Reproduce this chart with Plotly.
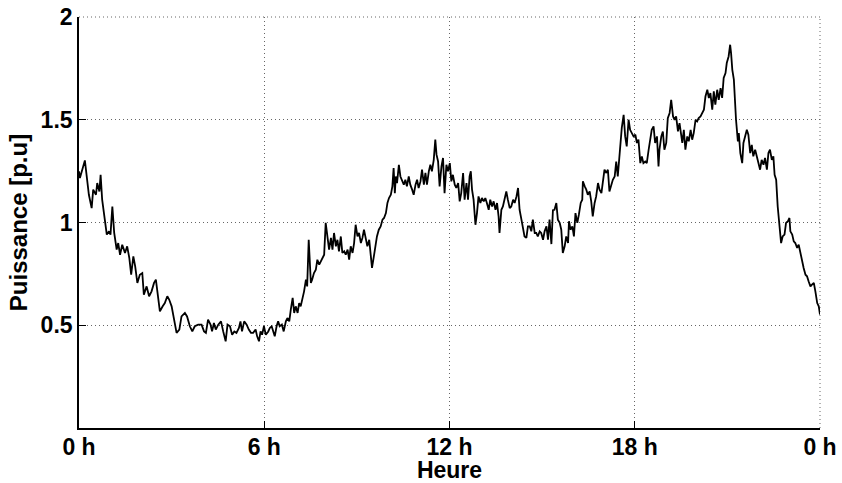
import plotly.graph_objects as go

# Time of day (hours) and power (p.u.)
hours = [
    0.00, 0.03, 0.19, 0.23, 0.27, 0.32, 0.41, 0.46, 0.55, 0.59, 0.66, 0.70, 0.75, 0.82, 0.90, 0.97,
    1.02, 1.08, 1.14, 1.22, 1.27, 1.33, 1.40, 1.49, 1.56, 1.63, 1.69, 1.76, 1.82, 1.89, 1.97,
    2.05, 2.10, 2.19, 2.27, 2.35, 2.43, 2.49, 2.57, 2.62, 2.71, 2.78, 2.86, 2.92,
    3.00, 3.07, 3.16, 3.25, 3.32, 3.43, 3.50, 3.59, 3.67, 3.75, 3.86, 3.97,
    4.05, 4.11, 4.18, 4.26, 4.31, 4.37, 4.43, 4.51, 4.60, 4.67, 4.75, 4.81, 4.89, 4.96,
    5.03, 5.10, 5.18, 5.23, 5.28, 5.35, 5.43, 5.50, 5.57, 5.64, 5.72, 5.77, 5.83, 5.88, 5.93, 5.99,
    6.05, 6.13, 6.18, 6.24, 6.29, 6.34, 6.40, 6.45, 6.50, 6.57, 6.63, 6.70, 6.75, 6.81, 6.86, 6.92, 6.97,
    7.02, 7.08, 7.13, 7.18, 7.24, 7.29, 7.35, 7.39, 7.44, 7.48, 7.51, 7.55, 7.61, 7.67, 7.72, 7.78, 7.89, 7.94, 7.99,
    8.05, 8.10, 8.16, 8.21, 8.26, 8.32, 8.37, 8.42, 8.48, 8.53, 8.59, 8.64, 8.70, 8.75, 8.80, 8.86, 8.91, 8.96,
    9.02, 9.07, 9.13, 9.18, 9.23, 9.29, 9.34, 9.40, 9.45, 9.49, 9.55, 9.60, 9.65, 9.71, 9.77, 9.83, 9.88, 9.94, 9.99,
    10.04, 10.10, 10.15, 10.19, 10.23, 10.26, 10.30, 10.36, 10.41, 10.46, 10.52, 10.57, 10.62, 10.68, 10.73, 10.79, 10.84, 10.90, 10.95,
    11.00, 11.06, 11.11, 11.17, 11.22, 11.27, 11.33, 11.38, 11.43, 11.49, 11.54, 11.58, 11.63, 11.68, 11.74, 11.79, 11.84, 11.90, 11.95,
    12.01, 12.06, 12.11, 12.17, 12.22, 12.28, 12.33, 12.38, 12.44, 12.49, 12.55, 12.60, 12.65, 12.69, 12.73, 12.78, 12.84, 12.89, 12.94,
    13.00, 13.05, 13.11, 13.16, 13.21, 13.27, 13.32, 13.38, 13.43, 13.49, 13.54, 13.59, 13.62, 13.68, 13.73, 13.79, 13.84, 13.89, 13.95,
    14.00, 14.06, 14.11, 14.17, 14.22, 14.27, 14.33, 14.38, 14.43, 14.49, 14.54, 14.60, 14.65, 14.70, 14.76, 14.81, 14.86, 14.92, 14.97,
    15.03, 15.08, 15.14, 15.19, 15.24, 15.30, 15.35, 15.40, 15.46, 15.51, 15.57, 15.62, 15.67, 15.73, 15.78, 15.84, 15.87, 15.92, 15.98,
    16.03, 16.08, 16.14, 16.19, 16.25, 16.30, 16.32, 16.38, 16.43, 16.48, 16.54, 16.59, 16.64, 16.70, 16.75, 16.81, 16.86, 16.92, 16.97,
    17.02, 17.08, 17.13, 17.18, 17.24, 17.29, 17.35, 17.40, 17.45, 17.51, 17.54, 17.58, 17.64, 17.69, 17.74, 17.80, 17.85, 17.91, 17.96,
    18.02, 18.07, 18.12, 18.18, 18.23, 18.28, 18.34, 18.39, 18.45, 18.50, 18.55, 18.61, 18.66, 18.72, 18.77, 18.80, 18.86, 18.91, 18.96,
    19.02, 19.07, 19.13, 19.18, 19.24, 19.29, 19.34, 19.40, 19.45, 19.54, 19.59, 19.64, 19.70, 19.75, 19.81, 19.86, 19.91, 19.97,
    20.02, 20.07, 20.13, 20.18, 20.24, 20.29, 20.35, 20.40, 20.45, 20.51, 20.56, 20.61, 20.67, 20.72, 20.78, 20.83, 20.88, 20.94, 20.98,
    21.04, 21.09, 21.12, 21.16, 21.21, 21.25, 21.28, 21.34, 21.37, 21.42, 21.48, 21.52, 21.58, 21.63, 21.68, 21.74, 21.79, 21.84, 21.90, 21.95,
    22.01, 22.06, 22.11, 22.17, 22.22, 22.28, 22.33, 22.38, 22.44, 22.49, 22.53, 22.58, 22.63, 22.69, 22.74, 22.79, 22.85, 22.90, 22.96,
    23.01, 23.04, 23.10, 23.15, 23.20, 23.26, 23.31, 23.37, 23.42, 23.47, 23.53, 23.58, 23.63, 23.69, 23.74, 23.80, 23.85, 23.91, 23.96, 24.00,
]

power = [
    1.249, 1.216, 1.302, 1.241, 1.184, 1.135, 1.070, 1.160, 1.135, 1.192, 1.151, 1.232, 1.111, 1.038, 0.941, 0.957,
    0.941, 1.078, 0.949, 0.868, 0.900, 0.843, 0.892, 0.852, 0.884, 0.827, 0.746, 0.835, 0.787, 0.706, 0.746,
    0.754, 0.649, 0.689, 0.641, 0.665, 0.706, 0.722, 0.625, 0.568, 0.592, 0.608, 0.641, 0.625,
    0.592, 0.527, 0.463, 0.479, 0.543, 0.560, 0.543, 0.495, 0.470, 0.495, 0.503, 0.503,
    0.470, 0.463, 0.527, 0.503, 0.470, 0.511, 0.479, 0.503, 0.519, 0.470, 0.422, 0.503, 0.495, 0.454,
    0.470, 0.463, 0.487, 0.519, 0.470, 0.519, 0.503, 0.479, 0.463, 0.463, 0.479, 0.446, 0.422, 0.470, 0.454, 0.495,
    0.454, 0.470, 0.487, 0.495, 0.470, 0.446, 0.495, 0.519, 0.495, 0.503, 0.470, 0.519, 0.535, 0.519, 0.576, 0.633, 0.560,
    0.592, 0.560, 0.608, 0.592, 0.625, 0.665, 0.722, 0.689, 0.916, 0.787, 0.706, 0.722, 0.754, 0.770, 0.819, 0.795, 0.827, 0.843, 0.998,
    0.916, 0.868, 0.925, 0.868, 0.949, 0.884, 0.916, 0.860, 0.932, 0.852, 0.860, 0.843, 0.868, 0.819, 0.884, 0.852, 0.900, 0.989,
    0.932, 0.949, 0.900, 0.925, 0.965, 0.916, 0.884, 0.916, 0.819, 0.779, 0.835, 0.892, 0.932, 0.965, 0.981, 1.014, 1.022, 1.046, 1.095,
    1.119, 1.135, 1.176, 1.265, 1.143, 1.224, 1.192, 1.281, 1.224, 1.208, 1.184, 1.208, 1.176, 1.224, 1.184, 1.160, 1.135, 1.184, 1.208,
    1.168, 1.200, 1.257, 1.184, 1.241, 1.184, 1.249, 1.281, 1.249, 1.305, 1.403, 1.330, 1.297, 1.176, 1.273, 1.314, 1.143, 1.281, 1.249,
    1.289, 1.200, 1.232, 1.184, 1.168, 1.192, 1.103, 1.143, 1.241, 1.111, 1.192, 1.111, 1.224, 1.249, 1.160, 1.111, 0.989, 1.046, 1.127,
    1.095, 1.119, 1.103, 1.119, 1.095, 1.062, 1.111, 1.078, 1.103, 1.062, 1.095, 1.030, 0.949, 1.062, 1.078, 1.127, 1.151, 1.111, 1.070,
    1.078, 1.111, 1.095, 1.127, 1.168, 1.062, 1.014, 0.981, 0.932, 0.925, 0.981, 0.981, 0.957, 1.014, 0.949, 0.949, 0.932, 0.957, 0.949,
    0.916, 0.957, 0.981, 0.916, 1.014, 0.895, 1.060, 1.062, 1.095, 1.014, 0.998, 0.965, 0.852, 0.884, 0.932, 0.900, 1.006, 0.965, 0.981,
    0.932, 1.046, 0.998, 1.038, 1.095, 1.111, 1.200, 1.176, 1.160, 1.135, 1.151, 1.103, 1.030, 1.095, 1.127, 1.192, 1.160, 1.143, 1.208,
    1.257, 1.241, 1.257, 1.151, 1.184, 1.208, 1.224, 1.297, 1.224, 1.338, 1.419, 1.460, 1.524, 1.419, 1.370, 1.500, 1.451, 1.435, 1.419,
    1.427, 1.387, 1.403, 1.289, 1.322, 1.289, 1.297, 1.289, 1.354, 1.411, 1.451, 1.468, 1.387, 1.419, 1.273, 1.354, 1.419, 1.443, 1.354,
    1.387, 1.508, 1.533, 1.597, 1.516, 1.500, 1.516, 1.443, 1.484, 1.387, 1.451, 1.354, 1.419, 1.395, 1.451, 1.403, 1.435, 1.500,
    1.492, 1.508, 1.516, 1.533, 1.549, 1.613, 1.646, 1.606, 1.630, 1.549, 1.638, 1.573, 1.646, 1.597, 1.654, 1.606, 1.703, 1.727, 1.776,
    1.808, 1.865, 1.824, 1.743, 1.695, 1.581, 1.500, 1.395, 1.435, 1.338, 1.289, 1.387, 1.419, 1.451, 1.427, 1.338, 1.378, 1.322, 1.354, 1.322,
    1.289, 1.257, 1.305, 1.281, 1.314, 1.257, 1.338, 1.354, 1.305, 1.322, 1.232, 1.208, 1.078, 0.965, 0.900, 0.932, 0.941, 0.998, 1.006,
    1.022, 0.957, 0.941, 0.908, 0.900, 0.876, 0.892, 0.843, 0.803, 0.779, 0.746, 0.738, 0.714, 0.689, 0.698, 0.706, 0.665, 0.608, 0.592, 0.552,
]

x_tick_vals = [0, 6, 12, 18, 24]
x_tick_text = ["0 h", "6 h", "12 h", "18 h", "0 h"]
y_tick_vals = [0.5, 1, 1.5, 2]
y_tick_text = ["0.5", "1", "1.5", "2"]

FONT = "Liberation Sans"
GRID_COLOR = "#666666"
GRID_DASH = "1px,3px"

fig = go.Figure()
fig.add_trace(go.Scatter(
    x=hours, y=power, mode="lines",
    line=dict(color="black", width=1.8),
    showlegend=False, hoverinfo="skip", cliponaxis=False,
))

axis_common = dict(
    showline=True, linecolor="black", linewidth=1.6,
    ticks="inside", ticklen=7, tickwidth=1.3, tickcolor="black",
    showgrid=True, gridcolor=GRID_COLOR, gridwidth=1, griddash=GRID_DASH,
    zeroline=False, mirror=False, ticklabeloverflow="allow",
    tickfont=dict(family=FONT, size=23, color="black", weight="bold"),
)

fig.update_xaxes(
    range=[0, 24], tickmode="array", tickvals=x_tick_vals, ticktext=x_tick_text,
    title=dict(text="<b>Heure</b>", font=dict(family=FONT, size=23, color="black"), standoff=0),
    ticklabelstandoff=-2,
    **axis_common,
)
fig.update_yaxes(
    range=[0, 2], tickmode="array", tickvals=y_tick_vals, ticktext=y_tick_text,
    title=dict(text="<b>Puissance [p.u]</b>", font=dict(family=FONT, size=24, color="black"), standoff=6),
    **axis_common,
)

# dotted grid lines along the top and right edges of the plot area
edge_line = dict(color=GRID_COLOR, width=1, dash=GRID_DASH)
fig.add_shape(type="line", xref="x domain", yref="y domain", x0=0, x1=1, y0=1, y1=1, line=edge_line, layer="below")
fig.add_shape(type="line", xref="x domain", yref="y domain", x0=1, x1=1, y0=0, y1=1, line=edge_line, layer="below")

fig.update_layout(
    width=842, height=483,
    margin=dict(l=79, r=22, t=17, b=55, autoexpand=False),
    paper_bgcolor="white", plot_bgcolor="white",
    font=dict(family=FONT, color="black"),
)

# remove the default page margin so the figure fills the window exactly
fig.write_html(
    "out.html",
    config={"displayModeBar": False},
    post_script="document.body.style.margin='0';document.body.style.overflow='hidden';",
)
